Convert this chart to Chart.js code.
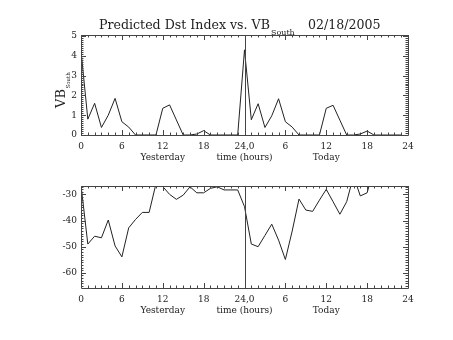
<!DOCTYPE html>
<html>
<head>
<meta charset="utf-8">
<script src="https://cdn.jsdelivr.net/npm/chart.js@4.4.1/dist/chart.umd.min.js"></script>
<style>
  body { margin: 0; background: #fff; }
  #wrap { position: relative; width: 453px; height: 340px; }
  canvas { position: absolute; left: 0; }
</style>
</head>
<body>
<div id="wrap">
  <canvas id="vbChart" width="453" height="170" style="top:0"></canvas>
  <canvas id="dstChart" width="453" height="170" style="top:170px"></canvas>
</div>
<script>
// hourly values, yesterday 0..23 then today 0..23
var vbYesterday = [4.25, 0.8, 1.6, 0.38, 1.0, 1.85, 0.67, 0.4, 0, 0, 0, 0, 1.35, 1.52, 0.76, 0, 0, 0.05, 0.22, 0, 0, 0, 0, 0];
var vbToday = [4.3, 0.77, 1.58, 0.38, 0.97, 1.83, 0.67, 0.4, 0, 0, 0, 0, 1.35, 1.5, 0.75, 0, 0, 0.05, 0.2, 0, 0, 0, 0, 0];
var dstYesterday = [-26.5, -49.0, -46.0, -46.6, -39.8, -49.7, -53.9, -42.8, -39.6, -36.9, -36.9, -26.0, -27.0, -30.0, -31.9, -30.3, -27.1, -29.4, -29.4, -27.7, -27.1, -28.3, -28.3, -28.3];
var dstToday = [-34.7, -49.0, -50.0, -45.7, -41.4, -47.5, -54.9, -44.0, -31.8, -36.0, -36.5, -32.2, -28.1, -32.8, -37.6, -32.8, -23.0, -30.6, -29.4, -20.0, -22.0, -24.0, -25.0, -25.0];

var xTickLabels = ["0", "6", "12", "18", "24,0", "6", "12", "18", "24"];
var xSubLabels = ["", "", "Yesterday", "", "time (hours)", "", "Today", "", ""];
var vbTicks = [0, 1, 2, 3, 4, 5];
var dstTicks = [-60, -50, -40, -30];

var FONT = 'DejaVu Serif';
var INK = '#222';

function toPoints(a, b) {
  return a.concat(b).map(function (v, i) { return { x: i, y: v }; });
}

// frame, inward ticks and the 24h divider, like the old IDL plots
var framePlugin = {
  id: 'frame',
  afterDatasetsDraw: function (chart, args, opts) {
    var ctx = chart.ctx, a = chart.chartArea;
    var x = chart.scales.x, y = chart.scales.y;
    ctx.save();
    ctx.strokeStyle = '#444';
    ctx.lineWidth = 1;
    ctx.beginPath();
    ctx.rect(Math.round(a.left) + 0.5, Math.round(a.top) + 0.5, Math.round(a.width), Math.round(a.height));
    for (var h = 0; h <= 48; h++) {
      var px = Math.round(x.getPixelForValue(h)) + 0.5;
      var len = h % 6 === 0 ? 5 : 2.5;
      ctx.moveTo(px, a.bottom); ctx.lineTo(px, a.bottom - len);
      ctx.moveTo(px, a.top); ctx.lineTo(px, a.top + len);
    }
    var i0 = Math.ceil(y.min / opts.minor - 1e-6), i1 = Math.floor(y.max / opts.minor + 1e-6);
    for (var i = i0; i <= i1; i++) {
      var v = i * opts.minor;
      var py = Math.round(y.getPixelForValue(v)) + 0.5;
      var major = Math.abs(v / opts.major - Math.round(v / opts.major)) < 1e-6;
      var l = major ? 5 : 2.5;
      ctx.moveTo(a.left, py); ctx.lineTo(a.left + l, py);
      ctx.moveTo(a.right, py); ctx.lineTo(a.right - l, py);
    }
    var dx = Math.round(x.getPixelForValue(24)) + 0.5;
    ctx.moveTo(dx, a.top); ctx.lineTo(dx, a.bottom);
    ctx.stroke();
    ctx.restore();
  },
  afterDraw: function (chart, args, opts) {
    if (opts.text) opts.text(chart.ctx, chart.chartArea);
  }
};

function makePanel(id, points, yMin, yMax, yTicks, minor, major, padTop, xHeight, text) {
  return new Chart(document.getElementById(id), {
    type: 'line',
    data: {
      datasets: [{
        data: points,
        borderColor: INK,
        borderWidth: 1,
        pointRadius: 0,
        tension: 0,
        fill: false
      }]
    },
    options: {
      responsive: false,
      animation: false,
      devicePixelRatio: 1,
      layout: { padding: { left: 0, right: 45, top: padTop, bottom: 0 } },
      plugins: {
        legend: { display: false },
        tooltip: { enabled: false },
        frame: { minor: minor, major: major, text: text }
      },
      scales: {
        x: {
          type: 'linear',
          min: 0,
          max: 48,
          grid: { display: false, drawTicks: false },
          border: { display: false },
          afterFit: function (s) { s.height = xHeight; },
          ticks: {
            stepSize: 6,
            autoSkip: false,
            maxRotation: 0,
            padding: 6,
            color: INK,
            font: { family: FONT, size: 9, lineHeight: 1.2 },
            callback: function (v) {
              var k = Math.round(v / 6);
              if (xSubLabels[k]) return [xTickLabels[k], xSubLabels[k]];
              return xTickLabels[k];
            }
          }
        },
        y: {
          min: yMin,
          max: yMax,
          grid: { display: false, drawTicks: false },
          border: { display: false },
          afterFit: function (s) { s.width = 81; },
          afterBuildTicks: function (s) {
            s.ticks = yTicks.map(function (v) { return { value: v }; });
          },
          ticks: {
            padding: 4,
            color: INK,
            font: { family: FONT, size: 9 }
          }
        }
      }
    },
    plugins: [framePlugin]
  });
}

makePanel('vbChart', toPoints(vbYesterday, vbToday), 0, 5.05, vbTicks, 0.1, 1, 35, 35,
  function (ctx, a) {
    ctx.save();
    ctx.fillStyle = INK;
    ctx.textBaseline = 'alphabetic';
    ctx.font = '12.6px "' + FONT + '"';
    var t = 'Predicted Dst Index vs. VB';
    ctx.fillText(t, 99, 29);
    var w = ctx.measureText(t).width;
    ctx.font = '8px "' + FONT + '"';
    ctx.fillText('South', 99 + w + 1, 35);
    ctx.font = '12.6px "' + FONT + '"';
    ctx.fillText('02/18/2005', 308, 29);
    // y title
    ctx.translate(64.5, 108);
    ctx.rotate(-Math.PI / 2);
    ctx.font = '13px "' + FONT + '"';
    ctx.fillText('VB', 0, 0);
    var w2 = ctx.measureText('VB').width;
    ctx.font = '5.5px "' + FONT + '"';
    ctx.fillText('South', w2 + 0.5, 5);
    ctx.restore();
  });

makePanel('dstChart', toPoints(dstYesterday, dstToday), -65.8, -26.8, dstTicks, 1, 10, 16, 52,
  function (ctx, a) {
    ctx.save();
    ctx.fillStyle = INK;
    ctx.translate(50.5, 220);
    ctx.rotate(-Math.PI / 2);
    ctx.textAlign = 'center';
    ctx.font = '9px "' + FONT + '"';
    ctx.fillText('Dst (nT)', 0, 0);
    ctx.restore();
  });
</script>
</body>
</html>
